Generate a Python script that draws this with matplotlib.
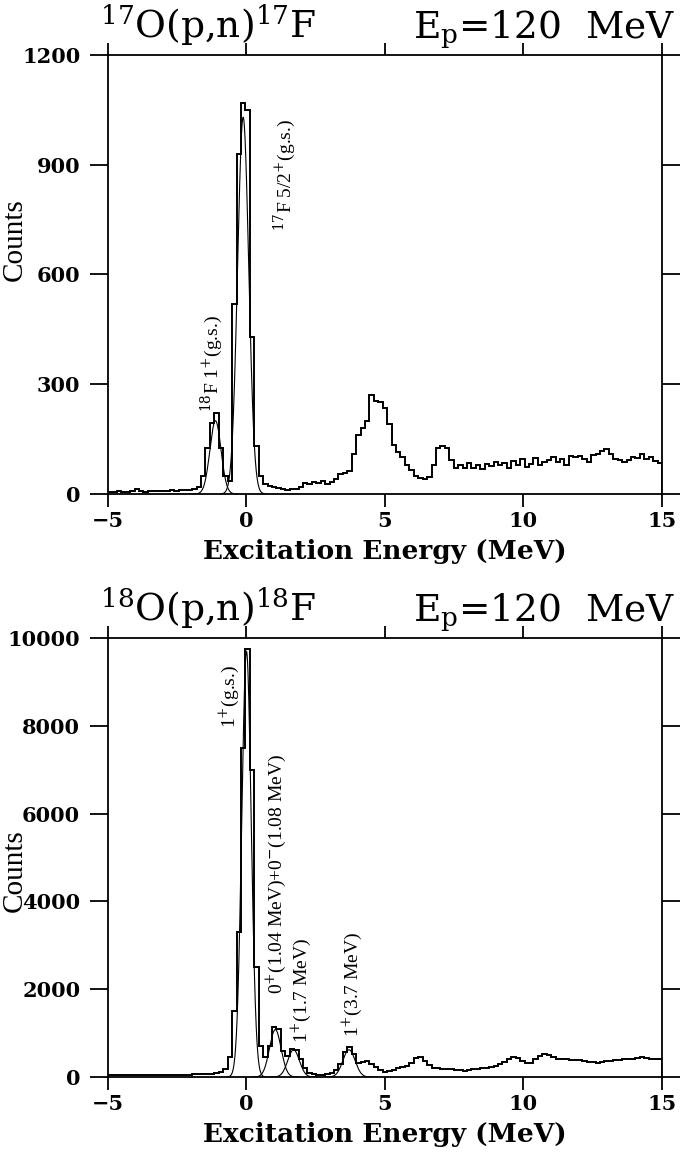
import numpy as np
import matplotlib
matplotlib.use("Agg")
from matplotlib import pyplot as plt

plt.rcParams['mathtext.fontset'] = 'dejavuserif'

# histogram binning (MeV)
e_lo = -5.0
bin_w = 0.16

# 17O(p,n)17F spectrum, counts per bin
counts_17 = [6, 5, 7, 4, 6, 8, 14, 7, 6, 9, 8, 7, 9, 8, 10, 9, 11, 10, 12, 14,
             20, 50, 125, 195, 220, 125, 50, 35, 520, 930, 1070, 1050, 430, 130, 50, 28,
             22, 18, 16, 14, 12, 14, 13, 18, 30, 26, 34, 30, 36, 28, 32, 40,
             55, 58, 62, 110, 160, 180, 200, 270, 255, 250, 235, 190, 135, 115, 100, 80,
             65, 48, 44, 40, 45, 80, 125, 132, 125, 92, 72, 78, 70, 85, 72, 80,
             68, 82, 76, 88, 80, 84, 72, 90, 78, 96, 74, 82, 98, 80, 88, 92,
             100, 86, 96, 78, 104, 100, 104, 96, 88, 106, 110, 118, 122, 108, 96, 92,
             88, 92, 100, 98, 108, 96, 100, 90, 84]

# 18O(p,n)18F spectrum, counts per bin
counts_18 = [40, 35, 45, 38, 42, 36, 40, 44, 38, 46, 42, 40, 48, 44, 50, 46, 52, 48, 55, 60,
             62, 65, 70, 75, 85, 110, 180, 450, 1500, 3300, 7500, 9750, 7000, 2500, 700, 450,
             700, 1150, 1100, 600, 480, 640, 620, 400, 200, 90, 60, 50, 55, 60, 90, 150,
             300, 560, 680, 520, 330, 350, 370, 300, 220, 150, 120, 130, 160, 200, 230, 260,
             320, 430, 450, 370, 280, 210, 200, 190, 185, 180, 170, 150, 140, 165, 180, 190,
             200, 215, 230, 260, 300, 340, 400, 450, 430, 360, 330, 320, 400, 470, 520, 500,
             460, 420, 410, 400, 390, 395, 380, 360, 350, 340, 330, 350, 360, 370, 380, 390,
             400, 410, 420, 440, 450, 430, 420, 410, 420]

# fitted peaks: centroid (MeV), height (counts), sigma (MeV)
fit17_pos = [-1.12, -0.12]
fit17_amp = [200, 1030]
fit17_sig = [0.20, 0.20]

fit18_pos = [0.0, 1.04, 1.70, 3.70]
fit18_amp = [9700, 1080, 620, 620]
fit18_sig = [0.17, 0.21, 0.21, 0.22]

xticks = [-5, 0, 5, 10, 15]
yticks_17 = [0, 300, 600, 900, 1200]
yticks_18 = [0, 2000, 4000, 6000, 8000, 10000]

serif = 'DejaVu Serif'
thin = 'Liberation Serif'

fig = plt.figure(figsize=(6.8, 11.53), dpi=100)
ax1 = fig.add_axes([0.1588, 0.5716, 0.8147, 0.3807])
ax2 = fig.add_axes([0.1588, 0.0659, 0.8147, 0.3807])


def draw_panel(ax, counts, pos, amp, sig, yticks):
    edges = e_lo + bin_w * np.arange(len(counts) + 1)
    ax.stairs(counts, edges, color='black', lw=1.4)
    for p, a, s in zip(pos, amp, sig):
        x = np.linspace(p - 4 * s, p + 4 * s, 200)
        ax.plot(x, a * np.exp(-0.5 * ((x - p) / s) ** 2), color='black', lw=0.8)
    ax.set_xlim(-5, 15)
    ax.set_ylim(yticks[0], yticks[-1])
    ax.set_xticks(xticks)
    ax.set_yticks(yticks)
    for sp in ax.spines.values():
        sp.set_linewidth(1.3)
    ax.tick_params(axis='both', direction='out', width=1.3, labelsize=15, pad=3)
    ax.tick_params(axis='x', length=9, top=True)
    ax.tick_params(axis='y', length=13, right=True, pad=7)
    for lab in ax.get_xticklabels() + ax.get_yticklabels():
        lab.set_family(serif)
        lab.set_fontweight('bold')
    ax.set_xlabel('Excitation Energy (MeV)', family=serif, fontweight='bold',
                  fontsize=19, labelpad=6)
    ax.set_ylabel('Counts', family=thin, fontsize=21, labelpad=-4)


draw_panel(ax1, counts_17, fit17_pos, fit17_amp, fit17_sig, yticks_17)
draw_panel(ax2, counts_18, fit18_pos, fit18_amp, fit18_sig, yticks_18)
ax1.yaxis.set_label_coords(-0.145, 0.58)
ax2.yaxis.set_label_coords(-0.145, 0.47)

# titles
for y in [0.967, 0.4614]:
    iso = '17' if y > 0.5 else '18'
    fig.text(0.147, y, r'$^{%s}$O(p,n)$^{%s}$F' % (iso, iso), family=serif,
             fontsize=27, ha='left', va='baseline')
    fig.text(0.993, y, r'E$_{\mathrm{p}}$=120  MeV', family=serif, fontsize=27,
             ha='right', va='baseline')

# peak labels
ax1.text(1.4, 720, r'$^{17}$F 5/2$^{+}$(g.s.)', rotation=90, ha='center', va='bottom',
         family=thin, fontsize=14)
ax1.text(-1.25, 225, r'$^{18}$F 1$^{+}$(g.s.)', rotation=90, ha='center', va='bottom',
         family=thin, fontsize=14)
ax2.text(-0.6, 7950, r'1$^{+}$(g.s.)', rotation=90, ha='center', va='bottom',
         family=thin, fontsize=14)
ax2.text(1.1, 1900, r'0$^{+}$(1.04 MeV)+0$^{-}$(1.08 MeV)', rotation=90, ha='center',
         va='bottom', family=thin, fontsize=14)
ax2.text(2.0, 780, r'1$^{+}$(1.7 MeV)', rotation=90, ha='center', va='bottom',
         family=thin, fontsize=14)
ax2.text(3.85, 910, r'1$^{+}$(3.7 MeV)', rotation=90, ha='center', va='bottom',
         family=thin, fontsize=14)

fig.savefig('out.png', dpi=100)
